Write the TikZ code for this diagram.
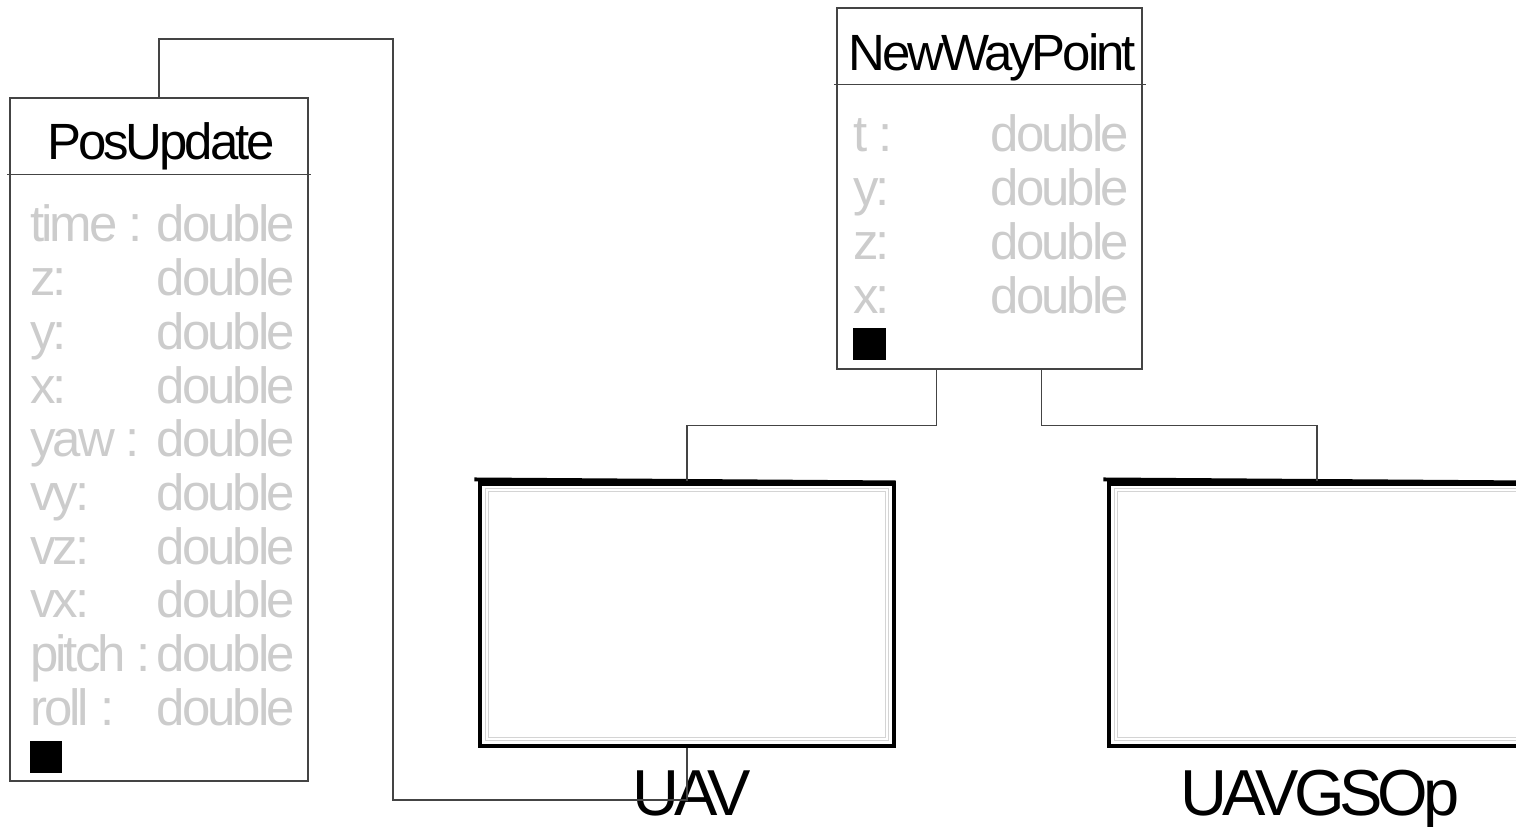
\documentclass[tikz,border=0pt]{standalone}
\usepackage{fontspec}
\setmainfont{Liberation Sans}
\newfontfamily\umlfont{Liberation Sans}[LetterSpace=-6]
\newfontfamily\umlbigfont{Liberation Sans}[LetterSpace=-8]
\definecolor{umlGrey}{HTML}{CCCCCC}
\definecolor{umlEdge}{HTML}{444444}
\definecolor{umlFrame}{HTML}{D4D4D4}
\usetikzlibrary{positioning,calc,fit}

\begin{document}
\begin{tikzpicture}[x=0.02cm, y=-0.02cm,
		classbox/.style={rectangle, draw=umlEdge, line width=0.8pt, inner sep=0pt},
		partbox/.style={rectangle, draw=black, line width=1.8pt, inner sep=0pt},
		title/.style={anchor=base, inner sep=0pt, font=\umlfont\fontsize{29}{30}\selectfont},
		attr/.style={anchor=base west, inner sep=0pt, text=umlGrey, font=\umlfont\fontsize{29}{30}\selectfont},
		attrtype/.style={anchor=base east, inner sep=0pt, text=umlGrey, font=\umlfont\fontsize{29}{30}\selectfont},
		partname/.style={anchor=base, inner sep=0pt, font=\umlbigfont\fontsize{37}{38}\selectfont},
		marker/.style={rectangle, fill=black, inner sep=0pt, minimum size=0.66cm},
		link/.style={draw=umlEdge, line width=0.7pt}
	]
		\useasboundingbox (0,0) rectangle (1516,827);
		\clip (0,0) rectangle (1516,827);
		% class PosUpdate
		\node[classbox, fit={(10,98) (308,781)}] (pos) {};
		\draw[classbox] ($(pos.north west)+(-2,77)$) -- ($(pos.north east)+(2,77)$);
		\node[title] (pos-title) at (161,160) {PosUpdate};
		\foreach \lbl [count=\i] in {time :,z:,y:,x:,yaw :,vy:,vz:,vx:,pitch :,roll :} {
			\node[attr] (pos-attr-\i) at (30,{242+53.7*(\i-1)}) {\lbl};
			\node[attrtype] (pos-type-\i) at (295,{242+53.7*(\i-1)}) {double};
		}
		\node[marker] (pos-mark) at (46,757) {};
		% class NewWayPoint
		\node[classbox, fit={(837,8) (1142,369)}] (nwp) {};
		\draw[classbox] ($(nwp.north west)+(-2,77)$) -- ($(nwp.north east)+(3,77)$);
		\node[title] (nwp-title) at (992,71) {NewWayPoint};
		\foreach \lbl [count=\i] in {t :,y:,z:,x:} {
			\node[attr] (nwp-attr-\i) at (853,{152+53.7*(\i-1)}) {\lbl};
			\node[attrtype] (nwp-type-\i) at (1129,{152+53.7*(\i-1)}) {double};
		}
		\node[marker] (nwp-mark) at (869,344) {};
		% parts
		\node[partbox, fit={(480,483) (894,746)}] (uav) {};
		\node[partbox, fit={(1109,483) (1525,746)}] (gsop) {};
		\foreach \p in {uav,gsop} {
			\draw[line width=2.2pt] ($(\p.north west)+(-4,-2)$) -- ($(\p.north east)+(0,1)$);
			\draw[black, line width=0.5pt] ($(\p.north west)+(4,4)$) -- ($(\p.north east)+(-4,4)$);
			\draw[umlFrame, line width=0.6pt] ($(\p.north west)+(7,7)$) rectangle ($(\p.south east)+(-7,-7)$);
			\draw[umlFrame, line width=0.6pt] ($(\p.north west)+(10,10)$) rectangle ($(\p.south east)+(-10,-10)$);
		}
		\node[partname] (uav-name) at (692,815) {UAV};
		\node[partname] (gsop-name) at (1320,815) {UAVGSOp};
		% connectors
		\coordinate (bendA) at (393,800);
		\coordinate (bendB) at (393,39);
		\draw[link] (uav.south) |- (bendA) -- (bendB) -| (pos.north);
		\draw[link] ($(nwp.south)+(-53,0)$) -- ++(0,56) -| (uav.north);
		\draw[link] ($(nwp.south)+(52,0)$) -- ++(0,56) -| (gsop.north);
	\end{tikzpicture}
\end{document}
